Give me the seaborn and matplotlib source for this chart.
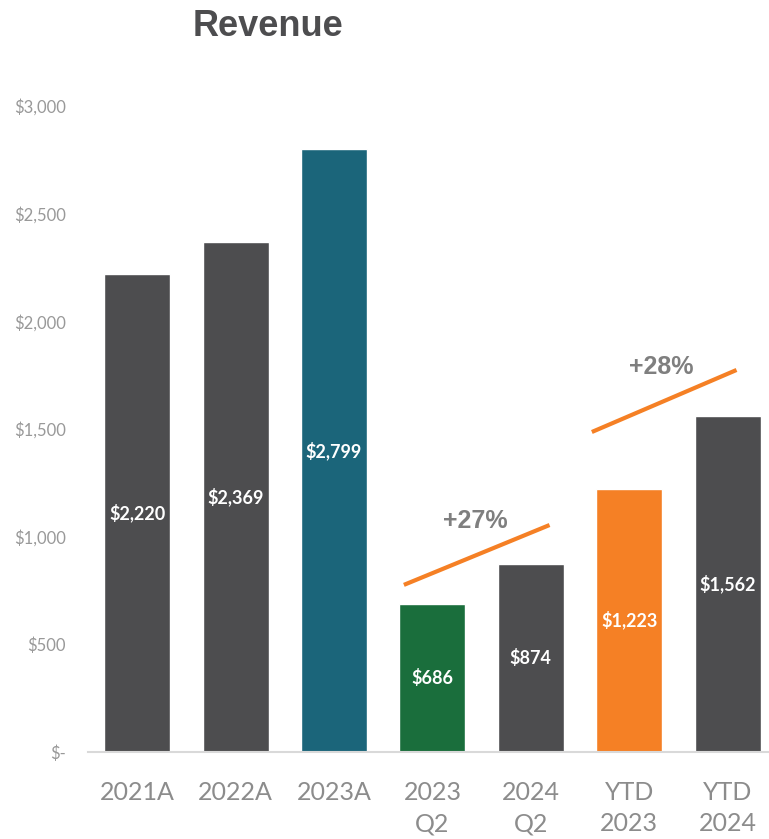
import matplotlib
matplotlib.use("Agg")
import matplotlib.pyplot as plt
import pandas as pd
import seaborn as sns
from matplotlib.ticker import FuncFormatter

categories = ["2021A", "2022A", "2023A", "2023\nQ2", "2024\nQ2", "YTD\n2023", "YTD\n2024"]
revenue = [2220, 2369, 2799, 686, 874, 1223, 1562]
bar_colors = ["#4d4d4f", "#4d4d4f", "#1b657a", "#1a6e3c", "#4d4d4f", "#f58025", "#4d4d4f"]

growth_labels = ["+27%", "+28%"]
growth_line_x = [(2.71, 4.19), (4.62, 6.09)]
growth_line_y = [(776, 1054), (1486, 1774)]
growth_text_x = [3.44, 5.33]
growth_text_y = [1073, 1788]

df = pd.DataFrame({"category": categories, "revenue": revenue})

sns.set_style("white")
plt.rcParams["font.family"] = ["Lato", "DejaVu Sans"]

fig = plt.figure(figsize=(7.69, 8.39), dpi=100)
ax = fig.add_axes([0.1144, 0.1037, 0.8856, 0.77])

sns.barplot(data=df, x="category", y="revenue", hue="category",
            palette=bar_colors, width=0.67, saturation=1, legend=False, ax=ax)

for cont, v in zip(ax.containers, revenue):
    ax.bar_label(cont, labels=[f"${v:,}"], label_type="center",
                 color="white", fontsize=13, fontweight="bold")

for xs, ys in zip(growth_line_x, growth_line_y):
    ax.plot(xs, ys, color="#f58025", lw=3, solid_capstyle="butt")
for lab, tx, ty in zip(growth_labels, growth_text_x, growth_text_y):
    ax.text(tx, ty, lab, ha="center", va="center", fontsize=18,
            fontweight="bold", color="#7f7f7f", family=["Liberation Sans"])

ax.set_xlim(-0.5, 6.42)
ax.set_ylim(0, 3000)
ax.set_yticks(range(0, 3001, 500))
ax.yaxis.set_major_formatter(FuncFormatter(lambda v, _: "$-" if v == 0 else f"${v:,.0f}"))
ax.tick_params(axis="y", length=0, labelsize=12, labelcolor="#999999", pad=16)
ax.tick_params(axis="x", length=0, labelsize=18, labelcolor="#8c8c8c", pad=21)
for lbl in ax.get_xticklabels():
    lbl.set_linespacing(1.42)
    lbl.set_verticalalignment("top")
ax.set_xlabel("")
ax.set_ylabel("")
for s in ["top", "right", "left"]:
    ax.spines[s].set_visible(False)
ax.spines["bottom"].set_color("#d9d9d9")
ax.spines["bottom"].set_linewidth(1.5)

fig.text(0.349, 0.969, "Revenue", ha="center", va="center", fontsize=26,
         fontweight="bold", color="#4d4d4f", family=["Liberation Sans"])

fig.savefig("out.png", dpi=100)
